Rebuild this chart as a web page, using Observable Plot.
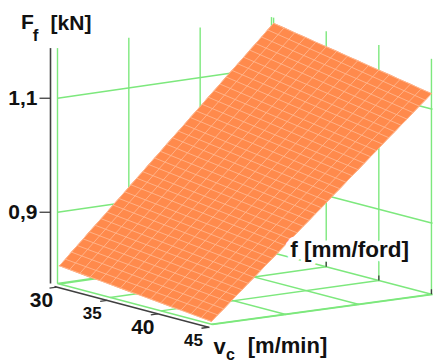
<!DOCTYPE html>
<html>
<head>
<meta charset="utf-8">
<script src="https://cdn.jsdelivr.net/npm/d3@7"></script>
<script src="https://cdn.jsdelivr.net/npm/@observablehq/plot@0.6"></script>
<style>
  html, body { margin: 0; padding: 0; background: #fff; }
  #chart { width: 435px; height: 364px; overflow: hidden; }
</style>
</head>
<body>
<div id="chart"></div>
<script>
// ---------------- data ----------------
// cutting speed grid, v_c [m/min]
const vcValues = [30, 31, 32, 33, 34, 35, 36, 37, 38, 39, 40, 41, 42, 43, 44, 45];
// feed grid, f [mm/ford]
const fValues = [0.100, 0.105, 0.110, 0.115, 0.120, 0.125, 0.130, 0.135, 0.140, 0.145,
                 0.150, 0.155, 0.160, 0.165, 0.170, 0.175, 0.180, 0.185, 0.190, 0.195,
                 0.200, 0.205, 0.210, 0.215, 0.220, 0.225, 0.230, 0.235, 0.240, 0.245,
                 0.250, 0.255, 0.260, 0.265, 0.270, 0.275, 0.280];
// F_f [kN] along the surface edges at the lowest / highest feed, one per vcValues entry
const ffAtFmin = [0.807, 0.805, 0.803, 0.801, 0.800, 0.798, 0.796, 0.794,
                  0.793, 0.791, 0.789, 0.787, 0.786, 0.784, 0.782, 0.780];
const ffAtFmax = [1.178, 1.175, 1.171, 1.168, 1.164, 1.161, 1.158, 1.154,
                  1.151, 1.147, 1.144, 1.141, 1.137, 1.134, 1.130, 1.127];
// F_f [kN] along the surface edges at v_c = 30 and v_c = 45, one per fValues entry
const ffAtVc30 = [0.807, 0.817, 0.828, 0.838, 0.848, 0.859, 0.869, 0.879, 0.889, 0.900,
                  0.910, 0.920, 0.931, 0.941, 0.951, 0.962, 0.972, 0.982, 0.993, 1.003,
                  1.013, 1.023, 1.034, 1.044, 1.054, 1.065, 1.075, 1.085, 1.096, 1.106,
                  1.116, 1.126, 1.137, 1.147, 1.157, 1.168, 1.178];
const ffAtVc45 = [0.780, 0.790, 0.799, 0.809, 0.819, 0.828, 0.838, 0.847, 0.857, 0.867,
                  0.876, 0.886, 0.896, 0.905, 0.915, 0.925, 0.934, 0.944, 0.953, 0.963,
                  0.973, 0.982, 0.992, 1.002, 1.011, 1.021, 1.031, 1.040, 1.050, 1.060,
                  1.069, 1.079, 1.088, 1.098, 1.108, 1.117, 1.127];
// axes
const vcDomain = [29.8, 45.1];
const fDomain = [0.10, 0.28];
const zDomain = [0.775, 1.188];
const vcTicks = [30, 35, 40, 45];
const vcTickLabels = ["30", "35", "40", "45"];
const fGrid = [0.10, 0.16, 0.22, 0.28];
const zTicks = [0.9, 1.1];
const zTickLabels = ["0,9", "1,1"];

// ---------------- 3-D view (camera) ----------------
const view = {
  floorL: [57, 283],   // (vc min, f min)
  floorF: [212, 324],  // (vc max, f min)
  floorR: [432, 294],  // (vc max, f max)
  floorB: [271, 252],  // (vc min, f max)
  zScale: 570          // screen units per kN
};
function proj(vc, f, z) {
  const u = (vc - vcDomain[0]) / (vcDomain[1] - vcDomain[0]);
  const v = (f - fDomain[0]) / (fDomain[1] - fDomain[0]);
  const {floorL: L, floorF: F, floorR: R, floorB: B} = view;
  const w = [(1 - u) * (1 - v), u * (1 - v), u * v, (1 - u) * v];
  const x = w[0] * L[0] + w[1] * F[0] + w[2] * R[0] + w[3] * B[0];
  const y = w[0] * L[1] + w[1] * F[1] + w[2] * R[1] + w[3] * B[1] - (z - zDomain[0]) * view.zScale;
  return [x, y];
}
function seg(a, b, dx = 0, dy = 0) {
  const p = proj(...a), q = proj(...b);
  return {x1: p[0] + dx, y1: p[1] + dy, x2: q[0] + dx, y2: q[1] + dy};
}
const [vc0, vc1] = vcDomain, [f0, f1] = fDomain, [z0, z1] = zDomain;

// green box grid
const grid = [];
for (const f of fGrid) grid.push(seg([vc0, f, z0], [vc0, f, z1]));        // left wall verticals
for (const z of zTicks) grid.push(seg([vc0, f0, z], [vc0, f1, z]));       // left wall horizontals
for (const vc of vcTicks) grid.push(seg([vc, f1, z0], [vc, f1, z1]));     // back wall verticals
for (const z of zTicks) grid.push(seg([vc0, f1, z], [vc1, f1, z]));       // back wall horizontals
for (const f of fGrid) grid.push(seg([vc0, f, z0], [vc1, f, z0]));        // floor lines along vc
for (const vc of vcTicks) grid.push(seg([vc, f0, z0], [vc, f1, z0]));     // floor lines along f
grid.push(seg([vc0, f0, z0], [vc0, f1, z0]));
grid.push(seg([vc1, f0, z0], [vc1, f1, z0]));

// surface outline
const outline = [];
vcValues.forEach((vc, i) => outline.push(proj(vc, f0, ffAtFmin[i])));
fValues.forEach((f, j) => outline.push(proj(vcValues[vcValues.length - 1], f, ffAtVc45[j])));
vcValues.slice().reverse().forEach((vc, k) => outline.push(proj(vc, f1, ffAtFmax[vcValues.length - 1 - k])));
fValues.slice().reverse().forEach((f, k) => outline.push(proj(vcValues[0], f, ffAtVc30[fValues.length - 1 - k])));

// surface mesh
const mesh = [];
vcValues.forEach((vc, i) => mesh.push(seg([vc, f0, ffAtFmin[i]], [vc, f1, ffAtFmax[i]])));
fValues.forEach((f, j) => mesh.push(seg([vcValues[0], f, ffAtVc30[j]], [vcValues[vcValues.length - 1], f, ffAtVc45[j]])));

// black axes (drawn slightly off the box, as in the picture)
const zOff = [-7, 0], vcOff = [-3, 3];
const axes = [
  seg([vc0, f0, z0], [vc0, f0, z1], ...zOff),
  seg([vc0, f0, z0], [vc1, f0, z0], ...vcOff)
];
const zTickPos = zTicks.map((z, i) => { const p = proj(vc0, f0, z); return {x: p[0] + zOff[0], y: p[1], label: zTickLabels[i]}; });
const vcTickPos = vcTicks.map((vc, i) => { const p = proj(vc, f0, z0); return {x: p[0] + vcOff[0], y: p[1] + vcOff[1], label: vcTickLabels[i], i}; });
const backTicks = vcTicks.slice(1).map(vc => { const p = proj(vc, f1, z0); return {x1: p[0], y1: p[1], x2: p[0], y2: p[1] - 5}; });

const ticks = [
  ...zTickPos.map(d => ({x1: d.x, y1: d.y, x2: d.x - 11, y2: d.y})),
  ...vcTickPos.map(d => ({x1: d.x, y1: d.y, x2: d.x - 7, y2: d.y + 1})),
  ...backTicks
];

// axis titles, anchored to the axes
const zTop = proj(vc0, f0, z1); zTop[0] += zOff[0];
const vcEnd = proj(vc1, f0, z0); vcEnd[0] += vcOff[0]; vcEnd[1] += vcOff[1];
const fMid = proj(vc1, (f0 + f1) / 2, z0);
const titles = [
  {x: zTop[0] - 23, y: zTop[1] - 25.5, text: "F", size: 21, anchor: "middle"},
  {x: zTop[0] - 15, y: zTop[1] - 12.4, text: "f", size: 17, anchor: "middle"},
  {x: zTop[0] + 20.5, y: zTop[1] - 25, text: "[kN]", size: 21, anchor: "middle"},
  {x: vcEnd[0] + 10, y: vcEnd[1] + 19, text: "v", size: 22, anchor: "middle"},
  {x: vcEnd[0] + 21, y: vcEnd[1] + 27.5, text: "c", size: 16, anchor: "middle"},
  {x: vcEnd[0] + 78, y: vcEnd[1] + 18.4, text: "[m/min]", size: 22, anchor: "middle"}
];
const fLabel = [{x: fMid[0] + 27, y: fMid[1] - 60, text: "f [mm/ford]"}];

const font = "'Liberation Sans', Arial, sans-serif";
const chart = Plot.plot({
  width: 435,
  height: 364,
  margin: 0,
  x: {domain: [0, 435], range: [0, 435], axis: null},
  y: {domain: [0, 364], range: [0, 364], axis: null},
  style: {background: "white", fontFamily: font, fontWeight: "bold"},
  marks: [
    Plot.link(grid, {x1: "x1", y1: "y1", x2: "x2", y2: "y2", stroke: "#7de87d", strokeWidth: 1.4}),
    Plot.line(outline, {x: d => d[0], y: d => d[1], fill: "#ff8a4c", stroke: "#ff8a4c", strokeWidth: 0.8, curve: "linear-closed"}),
    Plot.link(mesh, {x1: "x1", y1: "y1", x2: "x2", y2: "y2", stroke: "#ffb892", strokeWidth: 1, strokeOpacity: 0.85}),
    Plot.link(axes, {x1: "x1", y1: "y1", x2: "x2", y2: "y2", stroke: "#404040", strokeWidth: 1.6}),
    Plot.link(ticks, {x1: "x1", y1: "y1", x2: "x2", y2: "y2", stroke: "#404040", strokeWidth: 1.3}),
    Plot.text(zTickPos, {x: d => d.x - 13, y: "y", text: "label", textAnchor: "end", fontSize: 21, fontWeight: "bold", fill: "#111"}),
    Plot.text(vcTickPos, {x: d => d.x - 15, y: d => d.y + 13, text: "label", textAnchor: "middle", fontSize: d => d.i % 2 === 0 ? 21 : 17, fontWeight: "bold", fill: "#111"}),
    Plot.text(fLabel, {x: "x", y: "y", text: "text", fontSize: 22.5, fontWeight: "bold", fill: "#111", stroke: "white", strokeWidth: 9, strokeLinejoin: "round"}),
    Plot.text(titles, {x: "x", y: "y", text: "text", fontSize: "size", textAnchor: "middle", fontWeight: "bold", fill: "#111"})
  ]
});
document.getElementById("chart").appendChild(chart);
</script>
</body>
</html>
